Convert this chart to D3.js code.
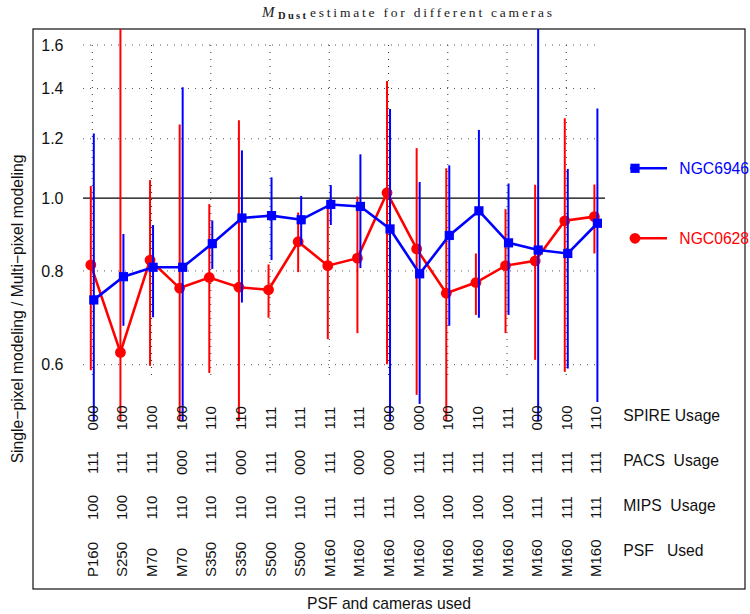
<!DOCTYPE html>
<html><head><meta charset="utf-8">
<script src="https://cdn.jsdelivr.net/npm/d3@7"></script>
<style>
body{margin:0;background:#fff;}
svg{display:block;}
</style></head>
<body><svg id="c" width="750" height="614" font-family="Liberation Sans, Arial, sans-serif"></svg>
<script>
const psfUsed   = ["P160","S250","M70","M70","S350","S350","S500","S500","M160","M160","M160","M160","M160","M160","M160","M160","M160","M160"];
const mipsUsage = ["100","100","110","110","110","110","110","110","111","111","111","100","100","100","100","111","111","111"];
const pacsUsage = ["111","111","111","000","111","000","111","000","111","000","000","111","111","111","111","111","111","111"];
const spireUsage= ["000","100","100","100","110","110","111","111","111","111","000","000","100","110","111","000","100","110"];

const ngc6946Val  = [0.732,0.786,0.809,0.809,0.870,0.941,0.948,0.936,0.981,0.975,0.910,0.793,0.892,0.962,0.872,0.853,0.844,0.926];
const ngc6946Low  = [0.45,0.676,0.694,0.45,0.805,0.726,0.827,0.866,0.921,0.807,0.45,0.532,0.676,0.693,0.699,0.45,0.593,0.535];
const ngc6946High = [1.220,0.896,0.921,1.405,0.934,1.158,1.066,1.007,1.041,1.144,1.315,1.051,1.106,1.233,1.046,1.9,1.094,1.317];

const ngc0628Val  = [0.815,0.623,0.827,0.759,0.784,0.761,0.755,0.875,0.813,0.832,1.017,0.856,0.747,0.772,0.813,0.825,0.933,0.945];
const ngc0628Low  = [0.590,0.45,0.598,0.45,0.585,0.45,0.693,0.797,0.649,0.661,0.601,0.547,0.45,0.699,0.661,0.609,0.587,0.844];
const ngc0628High = [1.038,1.9,1.057,1.254,0.982,1.270,0.816,0.957,0.974,1.005,1.433,1.166,1.096,0.844,0.967,1.042,1.278,1.043];

const yTicks = [0.6,0.8,1.0,1.2,1.4,1.6];
const rowNames = ["SPIRE Usage","PACS  Usage","MIPS  Usage","PSF   Used"];

const svg = d3.select("#c");
const idx = d3.range(psfUsed.length);
const x = d3.scalePoint().domain(idx).range([92.3,595.9]);
const y = d3.scaleLog().domain([0.6,1.6]).range([364.7,45]);

// frame
svg.append("rect").attr("x",33).attr("y",29).attr("width",712).attr("height",560)
  .attr("fill","none").attr("stroke","#222").attr("stroke-width",1.3);

// clip
svg.append("clipPath").attr("id","pc").append("rect").attr("x",33).attr("y",29).attr("width",712).attr("height",392);

// grid
const grid = svg.append("g");
grid.selectAll("line.h").data(yTicks.filter(d=>d!==1.0)).join("line")
  .attr("x1",83).attr("x2",601).attr("y1",d=>y(d)).attr("y2",d=>y(d))
  .attr("stroke","#555").attr("stroke-width",1).attr("stroke-dasharray","1,6");
grid.selectAll("line.v").data(idx.filter(i=>i%2===0)).join("line")
  .attr("x1",d=>x(d)).attr("x2",d=>x(d)).attr("y1",y(1.6)).attr("y2",y(0.58))
  .attr("stroke","#333").attr("stroke-width",1).attr("stroke-dasharray","1,6");
svg.append("line").attr("x1",83).attr("x2",605).attr("y1",y(1)).attr("y2",y(1))
  .attr("stroke","#000").attr("stroke-width",1.2);

// y axis labels
const ax = svg.append("g").attr("transform","translate(66.5,0)")
  .call(d3.axisLeft(y).tickValues(yTicks).tickFormat(d3.format(".1f")).tickSize(0).tickPadding(3));
ax.select(".domain").remove();
ax.selectAll("text").style("font-size","16px").style("font-family","Liberation Sans, Arial, sans-serif").attr("fill","#111");

// series
function drawSeries(vals, lo, hi, color, dx, shape){
  const g = svg.append("g").attr("clip-path","url(#pc)");
  g.selectAll("line").data(idx).join("line")
    .attr("x1",i=>x(i)+dx).attr("x2",i=>x(i)+dx)
    .attr("y1",i=>y(lo[i])).attr("y2",i=>y(hi[i]))
    .attr("stroke",color).attr("stroke-width",2);
  g.append("path").datum(idx)
    .attr("d",d3.line().x(i=>x(i)+dx).y(i=>y(vals[i])))
    .attr("fill","none").attr("stroke",color).attr("stroke-width",2.6);
  if(shape==="square"){
    g.selectAll("rect").data(idx).join("rect")
      .attr("x",i=>x(i)+dx-4.6).attr("y",i=>y(vals[i])-4.6)
      .attr("width",9.2).attr("height",9.2).attr("fill",color);
  } else {
    g.selectAll("circle").data(idx).join("circle")
      .attr("cx",i=>x(i)+dx).attr("cy",i=>y(vals[i])).attr("r",5.4).attr("fill",color);
  }
}
drawSeries(ngc0628Val, ngc0628Low, ngc0628High, "#ff0000", -1.5, "circle");
drawSeries(ngc6946Val, ngc6946Low, ngc6946High, "#0000ff", 1.5, "square");

// rotated category labels
const rows = [
  {arr:spireUsage, y:418, anchor:"middle"},
  {arr:pacsUsage, y:462.5, anchor:"middle"},
  {arr:mipsUsage, y:507.5, anchor:"middle"},
  {arr:psfUsed, y:577, anchor:"start"}
];
rows.forEach(r=>{
  svg.append("g").selectAll("text").data(idx).join("text")
    .attr("transform",i=>`translate(${x(i)},${r.y}) rotate(-90)`)
    .attr("text-anchor",r.anchor).attr("dominant-baseline","central")
    .attr("font-size","15px").attr("fill","#111").text(i=>r.arr[i]);
});
const rowY=[415.7,460.7,505.7,550.7];
svg.append("g").selectAll("text").data(rowNames).join("text")
  .attr("x",623.3).attr("y",(d,i)=>rowY[i]).attr("dominant-baseline","central")
  .attr("font-size","15.7px").attr("fill","#111").style("white-space","pre").text(d=>d);

// legend
const leg=[{name:"NGC6946",color:"#0000ff",y:168.3,shape:"square"},{name:"NGC0628",color:"#ff0000",y:238.3,shape:"circle"}];
leg.forEach(l=>{
  svg.append("line").attr("x1",630).attr("x2",667).attr("y1",l.y).attr("y2",l.y).attr("stroke",l.color).attr("stroke-width",2.6);
  if(l.shape==="square") svg.append("rect").attr("x",635-4.6).attr("y",l.y-4.6).attr("width",9.2).attr("height",9.2).attr("fill",l.color);
  else svg.append("circle").attr("cx",635).attr("cy",l.y).attr("r",5.4).attr("fill",l.color);
  svg.append("text").attr("x",679.3).attr("y",l.y).attr("dominant-baseline","central")
    .attr("font-size","15.7px").attr("fill",l.color).text(l.name);
});

// axis titles
svg.append("text").attr("transform","translate(17,309) rotate(-90)").attr("text-anchor","middle")
  .attr("dominant-baseline","central").attr("font-size","15.7px").attr("fill","#111")
  .text("Single\u2212pixel modeling / Multi\u2212pixel modeling");
svg.append("text").attr("x",389).attr("y",603).attr("text-anchor","middle").attr("dominant-baseline","central")
  .attr("font-size","15.7px").attr("fill","#111").text("PSF and cameras used");

// title
const serif="Liberation Serif, Times New Roman, serif";
svg.append("text").attr("x",262).attr("y",16.7).attr("font-family",serif).attr("font-style","italic")
  .attr("font-size","15px").attr("fill","#222").text("M");
svg.append("text").attr("x",278).attr("y",18.8).attr("font-family",serif)
  .attr("font-size","10.5px").attr("font-weight","bold").attr("fill","#222").attr("textLength",28).attr("lengthAdjust","spacing").text("Dust");
svg.append("text").attr("x",310).attr("y",16.7).attr("font-family",serif)
  .attr("font-size","13.5px").attr("fill","#222").attr("textLength",242).attr("lengthAdjust","spacing").text("estimate for different cameras");
</script></body></html>
